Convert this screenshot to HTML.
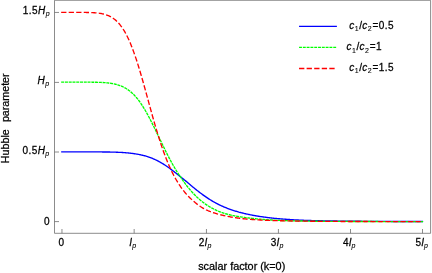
<!DOCTYPE html>
<html><head><meta charset="utf-8"><title>Hubble parameter</title>
<style>html,body{margin:0;padding:0;background:#fff;}svg{display:block;will-change:transform;font-family:"Liberation Sans",sans-serif;}</style>
</head><body>
<svg width="432" height="273" viewBox="0 0 432 273" font-family="Liberation Sans, sans-serif" fill="#000" stroke="none"><g stroke="#000" stroke-width="0.26">
<path d="M54.5,0.3 H430.6 V233.3 H54.5 Z" fill="none" stroke="#666" stroke-width="0.75"/>
<path d="M61.96,233.3 V229 M134.15,233.3 V229 M206.45,233.3 V229 M278.42,233.3 V229 M350.50,233.3 V229 M422.50,233.3 V229 M54.5,221.60 H59 M54.5,152.00 H59 M54.5,82.40 H59 M54.5,12.45 H59" stroke="#666" stroke-width="0.75" fill="none"/>
<path d="M61.16,151.90 L61.88,151.90 L62.61,151.90 L63.33,151.90 L64.06,151.90 L64.78,151.90 L65.51,151.90 L66.23,151.90 L66.96,151.90 L67.68,151.90 L68.41,151.90 L69.13,151.90 L69.86,151.90 L70.59,151.90 L71.31,151.90 L72.04,151.90 L72.76,151.90 L73.49,151.90 L74.21,151.90 L74.94,151.90 L75.66,151.90 L76.39,151.90 L77.11,151.90 L77.84,151.90 L78.56,151.90 L79.29,151.90 L80.01,151.90 L80.74,151.90 L81.46,151.90 L82.19,151.90 L82.92,151.90 L83.64,151.90 L84.37,151.90 L85.09,151.90 L85.82,151.90 L86.54,151.90 L87.27,151.90 L87.99,151.90 L88.72,151.90 L89.44,151.90 L90.17,151.91 L90.89,151.91 L91.62,151.91 L92.34,151.91 L93.07,151.91 L93.79,151.91 L94.52,151.91 L95.25,151.91 L95.97,151.92 L96.70,151.92 L97.42,151.92 L98.15,151.92 L98.87,151.93 L99.60,151.93 L100.32,151.94 L101.05,151.94 L101.77,151.95 L102.50,151.95 L103.22,151.96 L103.95,151.96 L104.67,151.97 L105.40,151.98 L106.12,151.99 L106.85,152.00 L107.58,152.01 L108.30,152.02 L109.03,152.03 L109.75,152.04 L110.48,152.06 L111.20,152.07 L111.93,152.09 L112.65,152.10 L113.38,152.12 L114.10,152.14 L114.83,152.17 L115.55,152.19 L116.28,152.21 L117.00,152.24 L117.73,152.27 L118.45,152.30 L119.18,152.33 L119.91,152.37 L120.63,152.41 L121.36,152.45 L122.08,152.49 L122.81,152.53 L123.53,152.58 L124.26,152.63 L124.98,152.69 L125.71,152.75 L126.43,152.81 L127.16,152.87 L127.88,152.94 L128.61,153.01 L129.33,153.09 L130.06,153.17 L130.78,153.25 L131.51,153.34 L132.24,153.43 L132.96,153.53 L133.69,153.63 L134.41,153.73 L135.14,153.84 L135.86,153.95 L136.59,154.07 L137.31,154.19 L138.04,154.32 L138.76,154.45 L139.49,154.59 L140.21,154.74 L140.94,154.89 L141.66,155.05 L142.39,155.22 L143.11,155.39 L143.84,155.58 L144.57,155.77 L145.29,155.97 L146.02,156.18 L146.74,156.40 L147.47,156.62 L148.19,156.86 L148.92,157.10 L149.64,157.36 L150.37,157.63 L151.09,157.90 L151.82,158.19 L152.54,158.48 L153.27,158.79 L153.99,159.10 L154.72,159.43 L155.44,159.76 L156.17,160.11 L156.90,160.47 L157.62,160.83 L158.35,161.21 L159.07,161.60 L159.80,161.99 L160.52,162.40 L161.25,162.82 L161.97,163.24 L162.70,163.68 L163.42,164.13 L164.15,164.59 L164.87,165.05 L165.60,165.53 L166.32,166.01 L167.05,166.51 L167.77,167.01 L168.50,167.52 L169.23,168.04 L169.95,168.57 L170.68,169.10 L171.40,169.64 L172.13,170.19 L172.85,170.74 L173.58,171.29 L174.30,171.85 L175.03,172.42 L175.75,172.99 L176.48,173.56 L177.20,174.13 L177.93,174.71 L178.65,175.30 L179.38,175.88 L180.10,176.47 L180.83,177.06 L181.56,177.64 L182.28,178.22 L183.01,178.80 L183.73,179.38 L184.46,179.96 L185.18,180.54 L185.91,181.14 L186.63,181.74 L187.36,182.34 L188.08,182.96 L188.81,183.59 L189.53,184.21 L190.26,184.82 L190.98,185.44 L191.71,186.05 L192.43,186.65 L193.16,187.26 L193.88,187.85 L194.61,188.45 L195.34,189.03 L196.06,189.62 L196.79,190.20 L197.51,190.77 L198.24,191.33 L198.96,191.89 L199.69,192.45 L200.41,192.99 L201.14,193.53 L201.86,194.07 L202.59,194.60 L203.31,195.12 L204.04,195.64 L204.76,196.15 L205.49,196.66 L206.21,197.15 L206.94,197.65 L207.67,198.13 L208.39,198.60 L209.12,199.07 L209.84,199.53 L210.57,199.99 L211.29,200.43 L212.02,200.87 L212.74,201.30 L213.47,201.72 L214.19,202.13 L214.92,202.53 L215.64,202.93 L216.37,203.32 L217.09,203.70 L217.82,204.07 L218.54,204.44 L219.27,204.80 L220.00,205.15 L220.72,205.49 L221.45,205.83 L222.17,206.16 L222.90,206.48 L223.62,206.80 L224.35,207.11 L225.07,207.41 L225.80,207.70 L226.52,207.99 L227.25,208.28 L227.97,208.56 L228.70,208.83 L229.42,209.10 L230.15,209.36 L230.87,209.61 L231.60,209.86 L232.33,210.11 L233.05,210.34 L233.78,210.58 L234.50,210.81 L235.23,211.03 L235.95,211.25 L236.68,211.47 L237.40,211.68 L238.13,211.88 L238.85,212.09 L239.58,212.28 L240.30,212.48 L241.03,212.67 L241.75,212.85 L242.48,213.03 L243.20,213.21 L243.93,213.39 L244.66,213.56 L245.38,213.72 L246.11,213.89 L246.83,214.05 L247.56,214.20 L248.28,214.36 L249.01,214.51 L249.73,214.66 L250.46,214.80 L251.18,214.94 L251.91,215.08 L252.63,215.22 L253.36,215.35 L254.08,215.49 L254.81,215.62 L255.53,215.75 L256.26,215.87 L256.99,215.99 L257.71,216.12 L258.44,216.23 L259.16,216.35 L259.89,216.46 L260.61,216.57 L261.34,216.68 L262.06,216.79 L262.79,216.89 L263.51,216.99 L264.24,217.09 L264.96,217.19 L265.69,217.29 L266.41,217.38 L267.14,217.47 L267.86,217.56 L268.59,217.65 L269.32,217.74 L270.04,217.82 L270.77,217.91 L271.49,217.99 L272.22,218.07 L272.94,218.15 L273.67,218.23 L274.39,218.30 L275.12,218.37 L275.84,218.45 L276.57,218.52 L277.29,218.58 L278.02,218.65 L278.74,218.71 L279.47,218.78 L280.19,218.84 L280.92,218.90 L281.65,218.96 L282.37,219.01 L283.10,219.07 L283.82,219.13 L284.55,219.18 L285.27,219.23 L286.00,219.29 L286.72,219.34 L287.45,219.39 L288.17,219.44 L288.90,219.49 L289.62,219.54 L290.35,219.58 L291.07,219.63 L291.80,219.67 L292.52,219.72 L293.25,219.76 L293.98,219.80 L294.70,219.84 L295.43,219.88 L296.15,219.92 L296.88,219.96 L297.60,220.00 L298.33,220.04 L299.05,220.07 L299.78,220.11 L300.50,220.14 L301.23,220.17 L301.95,220.21 L302.68,220.24 L303.40,220.27 L304.13,220.30 L304.85,220.32 L305.58,220.35 L306.31,220.38 L307.03,220.40 L307.76,220.43 L308.48,220.45 L309.21,220.47 L309.93,220.49 L310.66,220.51 L311.38,220.54 L312.11,220.55 L312.83,220.57 L313.56,220.59 L314.28,220.61 L315.01,220.63 L315.73,220.65 L316.46,220.67 L317.18,220.68 L317.91,220.70 L318.64,220.72 L319.36,220.73 L320.09,220.75 L320.81,220.76 L321.54,220.78 L322.26,220.79 L322.99,220.81 L323.71,220.82 L324.44,220.84 L325.16,220.85 L325.89,220.86 L326.61,220.88 L327.34,220.89 L328.06,220.90 L328.79,220.91 L329.51,220.93 L330.24,220.94 L330.96,220.95 L331.69,220.96 L332.42,220.97 L333.14,220.98 L333.87,221.00 L334.59,221.01 L335.32,221.02 L336.04,221.03 L336.77,221.04 L337.49,221.05 L338.22,221.06 L338.94,221.07 L339.67,221.08 L340.39,221.08 L341.12,221.09 L341.84,221.10 L342.57,221.11 L343.29,221.12 L344.02,221.13 L344.75,221.14 L345.47,221.14 L346.20,221.15 L346.92,221.16 L347.65,221.17 L348.37,221.18 L349.10,221.18 L349.82,221.19 L350.55,221.20 L351.27,221.20 L352.00,221.21 L352.72,221.22 L353.45,221.22 L354.17,221.23 L354.90,221.24 L355.62,221.24 L356.35,221.25 L357.08,221.26 L357.80,221.26 L358.53,221.27 L359.25,221.27 L359.98,221.28 L360.70,221.28 L361.43,221.29 L362.15,221.30 L362.88,221.30 L363.60,221.31 L364.33,221.31 L365.05,221.32 L365.78,221.32 L366.50,221.33 L367.23,221.33 L367.95,221.34 L368.68,221.34 L369.41,221.34 L370.13,221.35 L370.86,221.35 L371.58,221.36 L372.31,221.36 L373.03,221.37 L373.76,221.37 L374.48,221.37 L375.21,221.38 L375.93,221.38 L376.66,221.39 L377.38,221.39 L378.11,221.39 L378.83,221.40 L379.56,221.40 L380.28,221.40 L381.01,221.41 L381.74,221.41 L382.46,221.41 L383.19,221.42 L383.91,221.42 L384.64,221.42 L385.36,221.43 L386.09,221.43 L386.81,221.43 L387.54,221.44 L388.26,221.44 L388.99,221.44 L389.71,221.44 L390.44,221.45 L391.16,221.45 L391.89,221.45 L392.61,221.46 L393.34,221.46 L394.07,221.46 L394.79,221.46 L395.52,221.47 L396.24,221.47 L396.97,221.47 L397.69,221.47 L398.42,221.48 L399.14,221.48 L399.87,221.48 L400.59,221.48 L401.32,221.48 L402.04,221.49 L402.77,221.49 L403.49,221.49 L404.22,221.49 L404.94,221.50 L405.67,221.50 L406.40,221.50 L407.12,221.50 L407.85,221.50 L408.57,221.51 L409.30,221.51 L410.02,221.51 L410.75,221.51 L411.47,221.51 L412.20,221.51 L412.92,221.52 L413.65,221.52 L414.37,221.52 L415.10,221.52 L415.82,221.52 L416.55,221.52 L417.27,221.53 L418.00,221.53 L418.73,221.53 L419.45,221.53 L420.18,221.53 L420.90,221.53 L421.63,221.53 L422.35,221.54 L423.08,221.54" stroke="#0000ff" stroke-width="1.35" fill="none"/>
<path d="M61.16,82.15 L61.88,82.15 L62.61,82.15 L63.33,82.15 L64.06,82.15 L64.78,82.15 L65.51,82.15 L66.23,82.15 L66.96,82.15 L67.68,82.15 L68.41,82.15 L69.13,82.15 L69.86,82.15 L70.59,82.15 L71.31,82.15 L72.04,82.15 L72.76,82.15 L73.49,82.15 L74.21,82.15 L74.94,82.15 L75.66,82.15 L76.39,82.15 L77.11,82.15 L77.84,82.15 L78.56,82.15 L79.29,82.15 L80.01,82.15 L80.74,82.15 L81.46,82.15 L82.19,82.15 L82.92,82.16 L83.64,82.16 L84.37,82.16 L85.09,82.16 L85.82,82.16 L86.54,82.16 L87.27,82.17 L87.99,82.17 L88.72,82.17 L89.44,82.18 L90.17,82.18 L90.89,82.19 L91.62,82.20 L92.34,82.21 L93.07,82.21 L93.79,82.22 L94.52,82.24 L95.25,82.25 L95.97,82.26 L96.70,82.28 L97.42,82.30 L98.15,82.32 L98.87,82.34 L99.60,82.37 L100.32,82.40 L101.05,82.43 L101.77,82.46 L102.50,82.50 L103.22,82.54 L103.95,82.59 L104.67,82.64 L105.40,82.70 L106.12,82.76 L106.85,82.82 L107.58,82.90 L108.30,82.97 L109.03,83.06 L109.75,83.15 L110.48,83.25 L111.20,83.36 L111.93,83.48 L112.65,83.61 L113.38,83.75 L114.10,83.89 L114.83,84.05 L115.55,84.22 L116.28,84.41 L117.00,84.60 L117.73,84.82 L118.45,85.04 L119.18,85.28 L119.91,85.54 L120.63,85.81 L121.36,86.10 L122.08,86.41 L122.81,86.74 L123.53,87.09 L124.26,87.46 L124.98,87.85 L125.71,88.27 L126.43,88.70 L127.16,89.17 L127.88,89.65 L128.61,90.17 L129.33,90.71 L130.06,91.28 L130.78,91.87 L131.51,92.50 L132.24,93.15 L132.96,93.84 L133.69,94.55 L134.41,95.30 L135.14,96.08 L135.86,96.89 L136.59,97.74 L137.31,98.62 L138.04,99.53 L138.76,100.47 L139.49,101.45 L140.21,102.47 L140.94,103.51 L141.66,104.60 L142.39,105.71 L143.11,106.86 L143.84,108.04 L144.57,109.25 L145.29,110.49 L146.02,111.76 L146.74,113.04 L147.47,114.35 L148.19,115.68 L148.92,117.03 L149.64,118.41 L150.37,119.80 L151.09,121.22 L151.82,122.66 L152.54,124.11 L153.27,125.57 L153.99,127.04 L154.72,128.52 L155.44,130.01 L156.17,131.50 L156.90,132.99 L157.62,134.49 L158.35,135.99 L159.07,137.49 L159.80,138.99 L160.52,140.50 L161.25,142.00 L161.97,143.50 L162.70,145.00 L163.42,146.50 L164.15,147.99 L164.87,149.47 L165.60,150.94 L166.32,152.40 L167.05,153.84 L167.77,155.27 L168.50,156.68 L169.23,158.07 L169.95,159.44 L170.68,160.80 L171.40,162.14 L172.13,163.46 L172.85,164.76 L173.58,166.03 L174.30,167.29 L175.03,168.53 L175.75,169.74 L176.48,170.92 L177.20,172.06 L177.93,173.18 L178.65,174.28 L179.38,175.36 L180.10,176.43 L180.83,177.48 L181.56,178.52 L182.28,179.56 L183.01,180.60 L183.73,181.64 L184.46,182.65 L185.18,183.64 L185.91,184.61 L186.63,185.56 L187.36,186.50 L188.08,187.41 L188.81,188.29 L189.53,189.16 L190.26,190.01 L190.98,190.84 L191.71,191.66 L192.43,192.47 L193.16,193.26 L193.88,194.04 L194.61,194.80 L195.34,195.54 L196.06,196.25 L196.79,196.95 L197.51,197.63 L198.24,198.30 L198.96,198.95 L199.69,199.58 L200.41,200.20 L201.14,200.80 L201.86,201.39 L202.59,201.96 L203.31,202.51 L204.04,203.06 L204.76,203.58 L205.49,204.10 L206.21,204.60 L206.94,205.09 L207.67,205.56 L208.39,206.02 L209.12,206.47 L209.84,206.91 L210.57,207.33 L211.29,207.74 L212.02,208.14 L212.74,208.53 L213.47,208.91 L214.19,209.28 L214.92,209.64 L215.64,209.98 L216.37,210.31 L217.09,210.64 L217.82,210.95 L218.54,211.25 L219.27,211.54 L220.00,211.82 L220.72,212.10 L221.45,212.36 L222.17,212.62 L222.90,212.87 L223.62,213.10 L224.35,213.33 L225.07,213.56 L225.80,213.77 L226.52,213.98 L227.25,214.18 L227.97,214.38 L228.70,214.57 L229.42,214.75 L230.15,214.92 L230.87,215.09 L231.60,215.26 L232.33,215.41 L233.05,215.56 L233.78,215.71 L234.50,215.85 L235.23,215.99 L235.95,216.12 L236.68,216.25 L237.40,216.37 L238.13,216.49 L238.85,216.61 L239.58,216.72 L240.30,216.83 L241.03,216.94 L241.75,217.05 L242.48,217.15 L243.20,217.25 L243.93,217.35 L244.66,217.45 L245.38,217.55 L246.11,217.64 L246.83,217.74 L247.56,217.83 L248.28,217.92 L249.01,218.02 L249.73,218.11 L250.46,218.19 L251.18,218.28 L251.91,218.37 L252.63,218.45 L253.36,218.53 L254.08,218.61 L254.81,218.69 L255.53,218.77 L256.26,218.84 L256.99,218.91 L257.71,218.98 L258.44,219.04 L259.16,219.11 L259.89,219.17 L260.61,219.23 L261.34,219.29 L262.06,219.35 L262.79,219.41 L263.51,219.46 L264.24,219.52 L264.96,219.57 L265.69,219.62 L266.41,219.67 L267.14,219.72 L267.86,219.77 L268.59,219.81 L269.32,219.86 L270.04,219.90 L270.77,219.95 L271.49,219.99 L272.22,220.03 L272.94,220.07 L273.67,220.11 L274.39,220.14 L275.12,220.18 L275.84,220.21 L276.57,220.25 L277.29,220.28 L278.02,220.31 L278.74,220.34 L279.47,220.38 L280.19,220.41 L280.92,220.44 L281.65,220.47 L282.37,220.49 L283.10,220.52 L283.82,220.55 L284.55,220.58 L285.27,220.60 L286.00,220.63 L286.72,220.65 L287.45,220.68 L288.17,220.70 L288.90,220.72 L289.62,220.75 L290.35,220.77 L291.07,220.79 L291.80,220.81 L292.52,220.83 L293.25,220.85 L293.98,220.87 L294.70,220.88 L295.43,220.90 L296.15,220.92 L296.88,220.93 L297.60,220.95 L298.33,220.96 L299.05,220.98 L299.78,220.99 L300.50,221.00 L301.23,221.02 L301.95,221.03 L302.68,221.04 L303.40,221.05 L304.13,221.06 L304.85,221.07 L305.58,221.08 L306.31,221.10 L307.03,221.11 L307.76,221.12 L308.48,221.13 L309.21,221.14 L309.93,221.15 L310.66,221.15 L311.38,221.16 L312.11,221.17 L312.83,221.18 L313.56,221.19 L314.28,221.20 L315.01,221.21 L315.73,221.21 L316.46,221.22 L317.18,221.23 L317.91,221.24 L318.64,221.24 L319.36,221.25 L320.09,221.26 L320.81,221.27 L321.54,221.27 L322.26,221.28 L322.99,221.29 L323.71,221.29 L324.44,221.30 L325.16,221.30 L325.89,221.31 L326.61,221.32 L327.34,221.32 L328.06,221.33 L328.79,221.33 L329.51,221.34 L330.24,221.34 L330.96,221.35 L331.69,221.35 L332.42,221.36 L333.14,221.36 L333.87,221.37 L334.59,221.37 L335.32,221.38 L336.04,221.38 L336.77,221.39 L337.49,221.39 L338.22,221.40 L338.94,221.40 L339.67,221.41 L340.39,221.41 L341.12,221.41 L341.84,221.42 L342.57,221.42 L343.29,221.42 L344.02,221.43 L344.75,221.43 L345.47,221.44 L346.20,221.44 L346.92,221.44 L347.65,221.45 L348.37,221.45 L349.10,221.45 L349.82,221.46 L350.55,221.46 L351.27,221.46 L352.00,221.46 L352.72,221.47 L353.45,221.47 L354.17,221.47 L354.90,221.48 L355.62,221.48 L356.35,221.48 L357.08,221.48 L357.80,221.49 L358.53,221.49 L359.25,221.49 L359.98,221.49 L360.70,221.50 L361.43,221.50 L362.15,221.50 L362.88,221.50 L363.60,221.51 L364.33,221.51 L365.05,221.51 L365.78,221.51 L366.50,221.51 L367.23,221.52 L367.95,221.52 L368.68,221.52 L369.41,221.52 L370.13,221.52 L370.86,221.53 L371.58,221.53 L372.31,221.53 L373.03,221.53 L373.76,221.53 L374.48,221.53 L375.21,221.54 L375.93,221.54 L376.66,221.54 L377.38,221.54 L378.11,221.54 L378.83,221.54 L379.56,221.55 L380.28,221.55 L381.01,221.55 L381.74,221.55 L382.46,221.55 L383.19,221.55 L383.91,221.55 L384.64,221.56 L385.36,221.56 L386.09,221.56 L386.81,221.56 L387.54,221.56 L388.26,221.56 L388.99,221.56 L389.71,221.57 L390.44,221.57 L391.16,221.57 L391.89,221.57 L392.61,221.57 L393.34,221.57 L394.07,221.57 L394.79,221.57 L395.52,221.57 L396.24,221.58 L396.97,221.58 L397.69,221.58 L398.42,221.58 L399.14,221.58 L399.87,221.58 L400.59,221.58 L401.32,221.58 L402.04,221.58 L402.77,221.58 L403.49,221.58 L404.22,221.59 L404.94,221.59 L405.67,221.59 L406.40,221.59 L407.12,221.59 L407.85,221.59 L408.57,221.59 L409.30,221.59 L410.02,221.59 L410.75,221.59 L411.47,221.59 L412.20,221.59 L412.92,221.60 L413.65,221.60 L414.37,221.60 L415.10,221.60 L415.82,221.60 L416.55,221.60 L417.27,221.60 L418.00,221.60 L418.73,221.60 L419.45,221.60 L420.18,221.60 L420.90,221.60 L421.63,221.60 L422.35,221.60 L423.08,221.60" stroke="#00ff00" stroke-width="1.35" fill="none" stroke-dasharray="3.0171 0.75"/>
<path d="M61.16,12.40 L61.88,12.40 L62.61,12.40 L63.33,12.40 L64.06,12.40 L64.78,12.40 L65.51,12.40 L66.23,12.40 L66.96,12.40 L67.68,12.40 L68.41,12.40 L69.13,12.40 L69.86,12.40 L70.59,12.40 L71.31,12.40 L72.04,12.40 L72.76,12.40 L73.49,12.40 L74.21,12.40 L74.94,12.40 L75.66,12.40 L76.39,12.40 L77.11,12.40 L77.84,12.40 L78.56,12.41 L79.29,12.41 L80.01,12.41 L80.74,12.41 L81.46,12.42 L82.19,12.42 L82.92,12.42 L83.64,12.43 L84.37,12.44 L85.09,12.44 L85.82,12.45 L86.54,12.46 L87.27,12.48 L87.99,12.49 L88.72,12.51 L89.44,12.53 L90.17,12.55 L90.89,12.58 L91.62,12.61 L92.34,12.64 L93.07,12.68 L93.79,12.72 L94.52,12.77 L95.25,12.82 L95.97,12.88 L96.70,12.95 L97.42,13.02 L98.15,13.11 L98.87,13.20 L99.60,13.30 L100.32,13.41 L101.05,13.53 L101.77,13.67 L102.50,13.82 L103.22,13.98 L103.95,14.16 L104.67,14.35 L105.40,14.57 L106.12,14.80 L106.85,15.05 L107.58,15.32 L108.30,15.62 L109.03,15.93 L109.75,16.28 L110.48,16.65 L111.20,17.05 L111.93,17.48 L112.65,17.94 L113.38,18.43 L114.10,18.96 L114.83,19.53 L115.55,20.13 L116.28,20.77 L117.00,21.46 L117.73,22.18 L118.45,22.96 L119.18,23.78 L119.91,24.64 L120.63,25.56 L121.36,26.53 L122.08,27.55 L122.81,28.63 L123.53,29.76 L124.26,30.95 L124.98,32.19 L125.71,33.50 L126.43,34.86 L127.16,36.29 L127.88,37.77 L128.61,39.32 L129.33,40.93 L130.06,42.60 L130.78,44.33 L131.51,46.13 L132.24,47.98 L132.96,49.90 L133.69,51.87 L134.41,53.90 L135.14,55.99 L135.86,58.13 L136.59,60.33 L137.31,62.57 L138.04,64.86 L138.76,67.20 L139.49,69.59 L140.21,72.01 L140.94,74.47 L141.66,76.97 L142.39,79.50 L143.11,82.05 L143.84,84.63 L144.57,87.23 L145.29,89.85 L146.02,92.48 L146.74,95.12 L147.47,97.77 L148.19,100.42 L148.92,103.07 L149.64,105.72 L150.37,108.36 L151.09,110.99 L151.82,113.61 L152.54,116.21 L153.27,118.79 L153.99,121.34 L154.72,123.88 L155.44,126.38 L156.17,128.85 L156.90,131.27 L157.62,133.66 L158.35,136.01 L159.07,138.31 L159.80,140.58 L160.52,142.79 L161.25,144.97 L161.97,147.10 L162.70,149.19 L163.42,151.23 L164.15,153.23 L164.87,155.19 L165.60,157.10 L166.32,158.97 L167.05,160.78 L167.77,162.55 L168.50,164.27 L169.23,165.95 L169.95,167.58 L170.68,169.17 L171.40,170.71 L172.13,172.21 L172.85,173.66 L173.58,175.06 L174.30,176.42 L175.03,177.74 L175.75,179.02 L176.48,180.26 L177.20,181.46 L177.93,182.63 L178.65,183.78 L179.38,184.89 L180.10,185.98 L180.83,187.04 L181.56,188.06 L182.28,189.06 L183.01,190.02 L183.73,190.95 L184.46,191.86 L185.18,192.73 L185.91,193.58 L186.63,194.41 L187.36,195.21 L188.08,195.98 L188.81,196.74 L189.53,197.47 L190.26,198.19 L190.98,198.89 L191.71,199.57 L192.43,200.23 L193.16,200.87 L193.88,201.49 L194.61,202.10 L195.34,202.69 L196.06,203.28 L196.79,203.86 L197.51,204.43 L198.24,205.00 L198.96,205.54 L199.69,206.06 L200.41,206.56 L201.14,207.02 L201.86,207.46 L202.59,207.89 L203.31,208.30 L204.04,208.70 L204.76,209.09 L205.49,209.46 L206.21,209.82 L206.94,210.16 L207.67,210.50 L208.39,210.82 L209.12,211.12 L209.84,211.42 L210.57,211.70 L211.29,211.98 L212.02,212.24 L212.74,212.50 L213.47,212.74 L214.19,212.98 L214.92,213.21 L215.64,213.44 L216.37,213.66 L217.09,213.87 L217.82,214.07 L218.54,214.27 L219.27,214.46 L220.00,214.65 L220.72,214.83 L221.45,215.01 L222.17,215.18 L222.90,215.35 L223.62,215.51 L224.35,215.67 L225.07,215.83 L225.80,215.99 L226.52,216.14 L227.25,216.28 L227.97,216.43 L228.70,216.57 L229.42,216.70 L230.15,216.84 L230.87,216.97 L231.60,217.09 L232.33,217.22 L233.05,217.34 L233.78,217.45 L234.50,217.56 L235.23,217.67 L235.95,217.78 L236.68,217.88 L237.40,217.98 L238.13,218.08 L238.85,218.18 L239.58,218.27 L240.30,218.37 L241.03,218.46 L241.75,218.54 L242.48,218.63 L243.20,218.71 L243.93,218.79 L244.66,218.87 L245.38,218.94 L246.11,219.02 L246.83,219.09 L247.56,219.15 L248.28,219.22 L249.01,219.28 L249.73,219.33 L250.46,219.39 L251.18,219.44 L251.91,219.49 L252.63,219.54 L253.36,219.59 L254.08,219.64 L254.81,219.68 L255.53,219.73 L256.26,219.77 L256.99,219.81 L257.71,219.85 L258.44,219.89 L259.16,219.93 L259.89,219.97 L260.61,220.01 L261.34,220.05 L262.06,220.08 L262.79,220.12 L263.51,220.15 L264.24,220.18 L264.96,220.21 L265.69,220.24 L266.41,220.27 L267.14,220.30 L267.86,220.33 L268.59,220.36 L269.32,220.39 L270.04,220.42 L270.77,220.44 L271.49,220.47 L272.22,220.49 L272.94,220.52 L273.67,220.54 L274.39,220.56 L275.12,220.59 L275.84,220.61 L276.57,220.63 L277.29,220.65 L278.02,220.67 L278.74,220.69 L279.47,220.71 L280.19,220.73 L280.92,220.75 L281.65,220.77 L282.37,220.78 L283.10,220.80 L283.82,220.82 L284.55,220.83 L285.27,220.85 L286.00,220.87 L286.72,220.88 L287.45,220.90 L288.17,220.91 L288.90,220.93 L289.62,220.94 L290.35,220.95 L291.07,220.97 L291.80,220.98 L292.52,220.99 L293.25,221.01 L293.98,221.02 L294.70,221.03 L295.43,221.04 L296.15,221.05 L296.88,221.07 L297.60,221.08 L298.33,221.09 L299.05,221.10 L299.78,221.11 L300.50,221.12 L301.23,221.13 L301.95,221.14 L302.68,221.15 L303.40,221.16 L304.13,221.17 L304.85,221.17 L305.58,221.18 L306.31,221.19 L307.03,221.20 L307.76,221.21 L308.48,221.22 L309.21,221.22 L309.93,221.23 L310.66,221.24 L311.38,221.25 L312.11,221.25 L312.83,221.26 L313.56,221.27 L314.28,221.27 L315.01,221.28 L315.73,221.29 L316.46,221.29 L317.18,221.30 L317.91,221.31 L318.64,221.31 L319.36,221.32 L320.09,221.32 L320.81,221.33 L321.54,221.33 L322.26,221.34 L322.99,221.34 L323.71,221.35 L324.44,221.36 L325.16,221.36 L325.89,221.36 L326.61,221.37 L327.34,221.37 L328.06,221.38 L328.79,221.38 L329.51,221.39 L330.24,221.39 L330.96,221.40 L331.69,221.40 L332.42,221.40 L333.14,221.41 L333.87,221.41 L334.59,221.42 L335.32,221.42 L336.04,221.42 L336.77,221.43 L337.49,221.43 L338.22,221.44 L338.94,221.44 L339.67,221.44 L340.39,221.45 L341.12,221.45 L341.84,221.45 L342.57,221.45 L343.29,221.46 L344.02,221.46 L344.75,221.46 L345.47,221.47 L346.20,221.47 L346.92,221.47 L347.65,221.48 L348.37,221.48 L349.10,221.48 L349.82,221.48 L350.55,221.49 L351.27,221.49 L352.00,221.49 L352.72,221.49 L353.45,221.50 L354.17,221.50 L354.90,221.50 L355.62,221.50 L356.35,221.50 L357.08,221.51 L357.80,221.51 L358.53,221.51 L359.25,221.51 L359.98,221.52 L360.70,221.52 L361.43,221.52 L362.15,221.52 L362.88,221.52 L363.60,221.53 L364.33,221.53 L365.05,221.53 L365.78,221.53 L366.50,221.53 L367.23,221.53 L367.95,221.54 L368.68,221.54 L369.41,221.54 L370.13,221.54 L370.86,221.54 L371.58,221.54 L372.31,221.55 L373.03,221.55 L373.76,221.55 L374.48,221.55 L375.21,221.55 L375.93,221.55 L376.66,221.55 L377.38,221.56 L378.11,221.56 L378.83,221.56 L379.56,221.56 L380.28,221.56 L381.01,221.56 L381.74,221.56 L382.46,221.56 L383.19,221.57 L383.91,221.57 L384.64,221.57 L385.36,221.57 L386.09,221.57 L386.81,221.57 L387.54,221.57 L388.26,221.57 L388.99,221.57 L389.71,221.58 L390.44,221.58 L391.16,221.58 L391.89,221.58 L392.61,221.58 L393.34,221.58 L394.07,221.58 L394.79,221.58 L395.52,221.58 L396.24,221.58 L396.97,221.58 L397.69,221.59 L398.42,221.59 L399.14,221.59 L399.87,221.59 L400.59,221.59 L401.32,221.59 L402.04,221.59 L402.77,221.59 L403.49,221.59 L404.22,221.59 L404.94,221.59 L405.67,221.59 L406.40,221.60 L407.12,221.60 L407.85,221.60 L408.57,221.60 L409.30,221.60 L410.02,221.60 L410.75,221.60 L411.47,221.60 L412.20,221.60 L412.92,221.60 L413.65,221.60 L414.37,221.60 L415.10,221.60 L415.82,221.60 L416.55,221.60 L417.27,221.60 L418.00,221.61 L418.73,221.61 L419.45,221.61 L420.18,221.61 L420.90,221.61 L421.63,221.61 L422.35,221.61 L423.08,221.61" stroke="#ff0000" stroke-width="1.35" fill="none" stroke-dasharray="5.2686 2.258"/>
<path d="M299.05,26.35 H336.9" stroke="#0000ff" stroke-width="1.35" fill="none"/>
<path d="M299.05,47.3 H336.9" stroke="#00ff00" stroke-width="1.35" fill="none" stroke-dasharray="2.9 0.9"/>
<path d="M299.05,68.45 H336.9" stroke="#ff0000" stroke-width="1.35" fill="none" stroke-dasharray="5.3 2.27"/>
<text x="349.35" y="29.00" font-size="10" font-style="italic">c</text>
<text x="354.80" y="31.20" font-size="7" stroke-width="0.1">1</text>
<text x="359.14" y="29.00" font-size="10">/</text>
<text x="362.37" y="29.00" font-size="10" font-style="italic">c</text>
<text x="367.82" y="31.20" font-size="7" stroke-width="0.1">2</text>
<text x="372.56" y="29.00" font-size="10">=</text>
<text x="378.85" y="29.00" font-size="10">0</text>
<text x="384.86" y="29.00" font-size="10">.</text>
<text x="388.09" y="29.00" font-size="10">5</text>
<text x="346.60" y="50.30" font-size="10" font-style="italic">c</text>
<text x="352.05" y="52.50" font-size="7" stroke-width="0.1">1</text>
<text x="356.39" y="50.30" font-size="10">/</text>
<text x="359.62" y="50.30" font-size="10" font-style="italic">c</text>
<text x="365.07" y="52.50" font-size="7" stroke-width="0.1">2</text>
<text x="369.81" y="50.30" font-size="10">=</text>
<text x="376.10" y="50.30" font-size="10">1</text>
<text x="349.35" y="70.80" font-size="10" font-style="italic">c</text>
<text x="354.80" y="73.00" font-size="7" stroke-width="0.1">1</text>
<text x="359.14" y="70.80" font-size="10">/</text>
<text x="362.37" y="70.80" font-size="10" font-style="italic">c</text>
<text x="367.82" y="73.00" font-size="7" stroke-width="0.1">2</text>
<text x="372.56" y="70.80" font-size="10">=</text>
<text x="378.85" y="70.80" font-size="10">1</text>
<text x="384.86" y="70.80" font-size="10">.</text>
<text x="388.09" y="70.80" font-size="10">5</text>
<text x="22.80" y="14.00" font-size="10">1</text>
<text x="28.81" y="14.00" font-size="10">.</text>
<text x="32.04" y="14.00" font-size="10">5</text>
<text x="38.05" y="14.00" font-size="10" font-style="italic">H</text>
<text x="45.72" y="16.20" font-size="7" font-style="italic" stroke-width="0.1">p</text>
<text x="37.60" y="84.00" font-size="10" font-style="italic">H</text>
<text x="45.27" y="86.20" font-size="7" font-style="italic" stroke-width="0.1">p</text>
<text x="22.40" y="154.00" font-size="10">0</text>
<text x="28.41" y="154.00" font-size="10">.</text>
<text x="31.64" y="154.00" font-size="10">5</text>
<text x="37.65" y="154.00" font-size="10" font-style="italic">H</text>
<text x="45.32" y="156.20" font-size="7" font-style="italic" stroke-width="0.1">p</text>
<text x="43.9" y="225.1" font-size="10">0</text>
<text x="58.5" y="246" font-size="10">0</text>
<text x="129.55" y="246.00" font-size="10" font-style="italic">l</text>
<text x="132.22" y="248.20" font-size="7" font-style="italic" stroke-width="0.1">p</text>
<text x="198.85" y="246.00" font-size="10">2</text>
<text x="204.86" y="246.00" font-size="10" font-style="italic">l</text>
<text x="207.53" y="248.20" font-size="7" font-style="italic" stroke-width="0.1">p</text>
<text x="270.82" y="246.00" font-size="10">3</text>
<text x="276.83" y="246.00" font-size="10" font-style="italic">l</text>
<text x="279.50" y="248.20" font-size="7" font-style="italic" stroke-width="0.1">p</text>
<text x="342.90" y="246.00" font-size="10">4</text>
<text x="348.91" y="246.00" font-size="10" font-style="italic">l</text>
<text x="351.58" y="248.20" font-size="7" font-style="italic" stroke-width="0.1">p</text>
<text x="415.40" y="246.00" font-size="10">5</text>
<text x="421.41" y="246.00" font-size="10" font-style="italic">l</text>
<text x="424.08" y="248.20" font-size="7" font-style="italic" stroke-width="0.1">p</text>
<text x="198.2" y="269.7" font-size="10.85">scalar factor (k=0)</text>
<g transform="translate(9.0,163.15) rotate(-90)"><text x="0" y="0" font-size="10.7">Hubble</text><text x="41.05" y="0" font-size="10.7">parameter</text></g>
</g></svg>
</body></html>
